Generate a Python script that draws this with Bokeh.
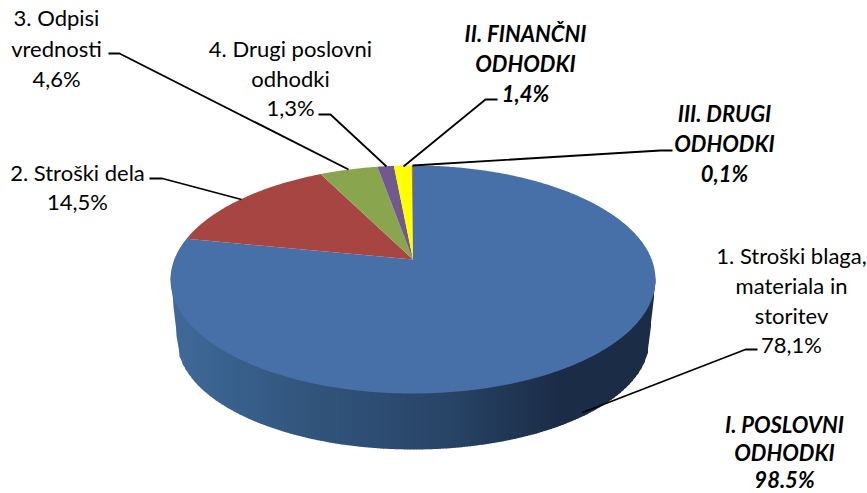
import math
from bokeh.plotting import figure
from bokeh.embed import file_html
from bokeh.resources import INLINE
from bokeh.core.properties import value
from bokeh.models import Range1d

# --- data -----------------------------------------------------------------
slice_names = ["1. Stroški blaga, materiala in storitev", "2. Stroški dela", "3. Odpisi vrednosti",
               "4. Drugi poslovni odhodki", "II. FINANČNI ODHODKI", "III. DRUGI ODHODKI"]
slice_values = [78.1, 14.5, 4.6, 1.3, 1.4, 0.1]
slice_colors = ["#4670a7", "#a74543", "#89a54e", "#71588f", "#ffff00", "#c0704a"]

plain_labels = [
    (["1. Stroški blaga,", "materiala in", "storitev", "78,1%"], 791, [255, 285, 315, 344]),
    (["2. Stroški dela", "14,5%"], 77, [172, 201]),
    (["3. Odpisi", "vrednosti", "4,6%"], 56, [17, 48, 78]),
    (["4. Drugi poslovni", "odhodki", "1,3%"], 290, [48, 78, 107]),
]
bold_labels = [
    (["I. POSLOVNI", "ODHODKI", "98.5%"], 784, [424, 452, 479]),
    (["II. FINANČNI", "ODHODKI", "1,4%"], 525, [33, 63, 93]),
    (["III. DRUGI", "ODHODKI", "0,1%"], 724, [113, 143, 173]),
]
leaders = [
    ([757, 745, 582], [349, 349, 412]),
    ([149, 162, 241], [178, 178, 199]),
    ([108, 119, 348], [53, 53, 169]),
    ([318, 330, 386], [114, 114, 166]),
    ([497, 485, 403], [99, 99, 166]),
    ([672, 660, 412], [150, 150, 165]),
]

# --- pie geometry (perspective view of a circle) ----------------------------
CX, AY, A, K = 412.5, 259.0, 110.5, 0.1754
B = 238.7


def project(frac):
    t = 2 * math.pi * frac
    u, v = math.sin(t), math.cos(t)
    d = 1 + K * v
    return CX + B * u / d, AY - A * v / d


p = figure(width=867, height=493, output_backend="svg", toolbar_location=None,
           x_range=Range1d(0, 867), y_range=Range1d(493, 0),
           x_axis_type=None, y_axis_type=None, min_border=0, outline_line_color=None,
           background_fill_color="white", border_fill_color="white",
           styles={"position": "absolute", "left": "0px", "top": "0px"})
p.grid.visible = False

# side wall, drawn as thin vertical strips with a left-to-right shade
stops = [(170, (64, 106, 154)), (300, (50, 86, 126)), (450, (40, 68, 102)), (560, (26, 44, 70)), (655, (26, 44, 70))]


def shade(x):
    for (x0, c0), (x1, c1) in zip(stops, stops[1:]):
        if x <= x1:
            f = (x - x0) / (x1 - x0)
            return "#%02x%02x%02x" % tuple(round(a + (b - a) * f) for a, b in zip(c0, c1))
    return "#1a2c46"


def top_low(x):
    d = min(1, abs(x - CX) / 242.5)
    return 279 + 114 * math.sqrt(1 - d * d)


def bot_low(x):
    d = abs(x - CX)
    if d < 236:
        return 340 + 109 * math.sqrt(1 - (d / 236) ** 2)
    return 278 + (242.5 - d) / 6.5 * 62


xs, ys, cs = [], [], []
x = 170.0
while x < 655:
    x2 = min(x + 3, 655)
    xm = (x + x2) / 2
    xs.append([x, x2 + 0.5, x2 + 0.5, x])
    ys.append([top_low(x) - 3, top_low(x2) - 3, bot_low(x2), bot_low(x)])
    cs.append(shade(xm))
    x = x2
p.patches(xs, ys, fill_color=cs, line_color=None)

# top face
start = 0.0
total = sum(slice_values)
for val, col in zip(slice_values, slice_colors):
    end = start + val / total
    n = max(3, int(val * 6))
    pts = [project(start + (end - start) * i / n) for i in range(n + 1)]
    p.patch([CX] + [q[0] for q in pts], [AY] + [q[1] for q in pts], fill_color=col, line_color=None)
    start = end

for lx, ly in leaders:
    p.line(lx, ly, line_color="black", line_width=1.8)

FS = "22px"
for labels, bold in ((plain_labels, False), (bold_labels, True)):
    for lines, tx, tys in labels:
        p.text([tx] * len(lines), tys, text=lines, text_align="center", text_baseline="middle",
               text_font=value("Lato"), text_font_size=FS, text_color="black",
               text_font_style="bold italic" if bold else "normal")

open("out.html", "w").write(file_html(p, INLINE))
